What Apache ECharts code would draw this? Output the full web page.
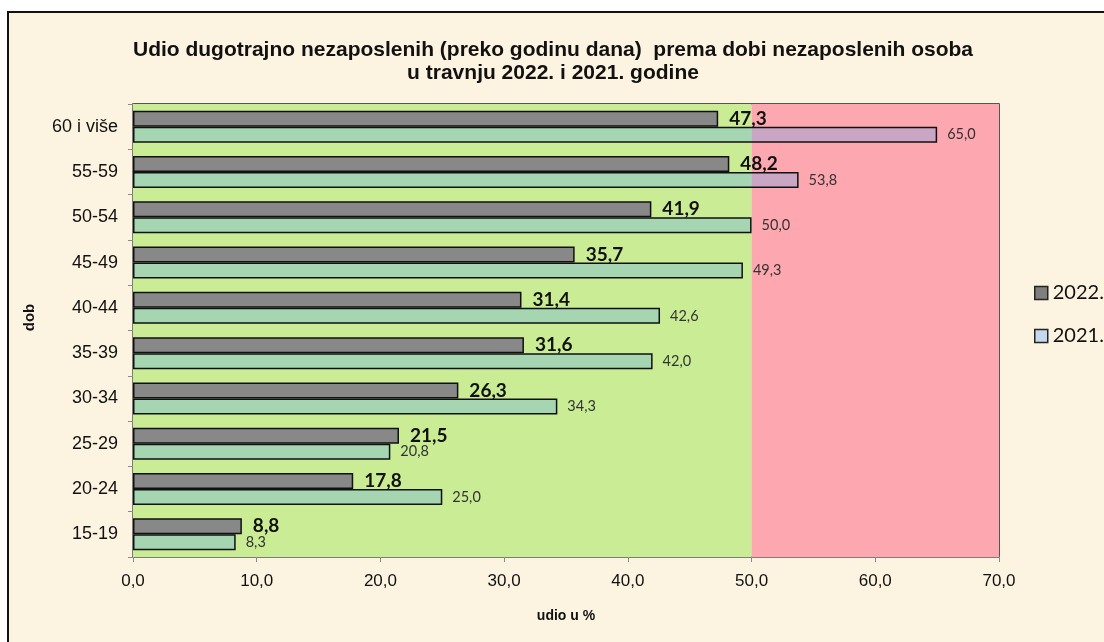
<!DOCTYPE html>
<html>
<head>
<meta charset="utf-8">
<script src="https://cdn.jsdelivr.net/npm/echarts@6/dist/echarts.min.js"></script>
<style>
  html, body { margin: 0; padding: 0; background: #ffffff; }
  #chart { width: 1104px; height: 642px; }
</style>
</head>
<body>
<div id="chart"></div>
<script>
// data (top row first)
var categories = ['60 i više', '55-59', '50-54', '45-49', '40-44', '35-39', '30-34', '25-29', '20-24', '15-19'];
var values2022 = [47.3, 48.2, 41.9, 35.7, 31.4, 31.6, 26.3, 21.5, 17.8, 8.8];
var values2021 = [65.0, 53.8, 50.0, 49.3, 42.6, 42.0, 34.3, 20.8, 25.0, 8.3];
var xTicks = [0, 10, 20, 30, 40, 50, 60, 70];

function comma(v) {
    return Number(v).toFixed(1).replace('.', ',');
}

var myChart = echarts.init(document.getElementById('chart'));

var option = {
    backgroundColor: '#ffffff',
    animation: false,
    graphic: [{
        type: 'rect',
        z: -10,
        shape: { x: 8, y: 12, width: 1200, height: 700 },
        style: { fill: '#fdf3e1', stroke: '#111', lineWidth: 2 }
    }],
    title: {
        text: 'Udio dugotrajno nezaposlenih (preko godinu dana)  prema dobi nezaposlenih osoba\nu travnju 2022. i 2021. godine',
        left: 548,
        textAlign: 'center',
        top: 34,
        textStyle: {
            fontFamily: 'Liberation Sans',
            fontSize: 21,
            fontWeight: 'bold',
            color: '#111',
            lineHeight: 23
        }
    },
    legend: {
        orient: 'vertical',
        left: 1034,
        top: 283,
        padding: 0,
        itemWidth: 13,
        itemHeight: 13,
        itemGap: 23,
        icon: 'rect',
        textStyle: { fontFamily: 'Lato', fontSize: 20, color: '#111' },
        data: [
            { name: '2022.', itemStyle: { color: '#7f7f7f', borderColor: '#222', borderWidth: 1.5 } },
            { name: '2021.', itemStyle: { color: '#c6d9ec', borderColor: '#222', borderWidth: 1.5 } }
        ]
    },
    grid: {
        left: 133,
        right: 105,
        top: 104,
        bottom: 85,
        show: true,
        borderColor: '#222',
        borderWidth: 1.5
    },
    xAxis: {
        type: 'value',
        min: 0,
        max: 70,
        interval: 10,
        name: 'udio u %',
        nameLocation: 'middle',
        nameGap: 52,
        nameTextStyle: { fontFamily: 'Liberation Sans', fontSize: 14, fontWeight: 'bold', color: '#111' },
        axisLine: { show: true, lineStyle: { color: '#8a8a8a', width: 1.5 } },
        axisTick: { show: true, inside: false, length: 5, lineStyle: { color: '#8a8a8a' } },
        splitLine: { show: false },
        axisLabel: {
            margin: 16,
            fontFamily: 'Liberation Sans',
            fontSize: 17,
            color: '#111',
            customValues: xTicks,
            formatter: function (v) { return comma(v); }
        }
    },
    yAxis: {
        type: 'category',
        inverse: true,
        data: categories,
        name: 'dob',
        nameLocation: 'middle',
        nameGap: 96,
        nameRotate: 90,
        nameTextStyle: {
            fontFamily: 'Liberation Sans', fontSize: 15, fontWeight: 'bold', color: '#111',
            padding: [0, 0, 0, 26]
        },
        axisLine: { show: true, lineStyle: { color: '#8a8a8a', width: 1.5 } },
        axisTick: { show: true, length: 5, lineStyle: { color: '#8a8a8a' } },
        axisLabel: {
            margin: 15,
            fontFamily: 'Liberation Sans',
            fontSize: 18,
            color: '#111'
        }
    },
    series: [
        {
            // background bands: green up to 50, pink above
            name: 'bands',
            type: 'line',
            data: [],
            z: 0,
            silent: true,
            markArea: {
                silent: true,
                data: [
                    [{ xAxis: 0, itemStyle: { color: '#c9ec94' } }, { xAxis: 50 }],
                    [{ xAxis: 50, itemStyle: { color: '#fda7b0' } }, { xAxis: 70 }]
                ]
            }
        },
        {
            name: '2022.',
            type: 'bar',
            z: 3,
            barWidth: 16,
            barGap: '0%',
            data: values2022,
            itemStyle: { color: '#898889', borderColor: '#111', borderWidth: 1.5 },
            label: {
                show: true,
                position: 'right',
                distance: 11,
                fontFamily: 'Lato',
                fontSize: 19,
                fontWeight: 'bold',
                color: '#111',
                formatter: function (p) { return comma(p.value); }
            }
        },
        {
            name: '2021.',
            type: 'bar',
            z: 3,
            barWidth: 16,
            barGap: '0%',
            data: values2021,
            itemStyle: { color: 'rgba(90,165,240,0.32)', borderColor: '#111', borderWidth: 1.5 },
            label: {
                show: true,
                position: 'right',
                distance: 10,
                fontFamily: 'Lato',
                fontSize: 14.5,
                color: '#333',
                formatter: function (p) { return comma(p.value); }
            }
        }
    ]
};

myChart.setOption(option);
</script>
</body>
</html>
